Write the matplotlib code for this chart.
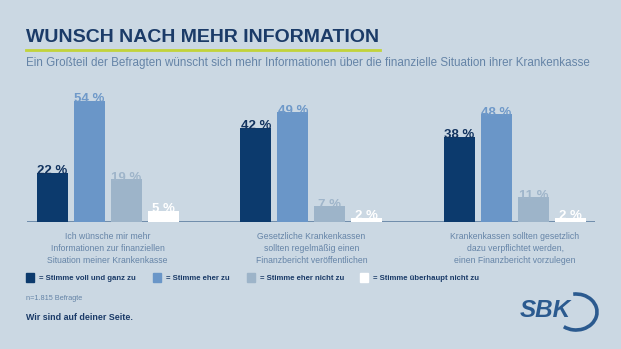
import matplotlib
matplotlib.use("Agg")
import matplotlib.pyplot as plt
from matplotlib.patches import Rectangle, Arc
from matplotlib.lines import Line2D


W, H = 621, 349

categories = [
	"Ich wünsche mir mehr\nInformationen zur finanziellen\nSituation meiner Krankenkasse",
	"Gesetzliche Krankenkassen\nsollten regelmäßig einen\nFinanzbericht veröffentlichen",
	"Krankenkassen sollten gesetzlich\ndazu verpflichtet werden,\neinen Finanzbericht vorzulegen",
]
series_names = [
	"= Stimme voll und ganz zu",
	"= Stimme eher zu",
	"= Stimme eher nicht zu",
	"= Stimme überhaupt nicht zu",
]
voll = [22, 42, 38]
eher = [54, 49, 48]
eher_nicht = [19, 7, 11]
ueberhaupt = [5, 2, 2]

bar_colors = ["#0c3a6d", "#6a96c8", "#9db4c9", "#ffffff"]
label_colors = ["#12335f", "#6f99c9", "#9fb5ca", "#ffffff"]
BG = "#cbd8e3"
DARK = "#1b3b68"
SOFT = "#6584a7"

SANS = ["Liberation Sans", "DejaVu Sans"]


def px(x, y):
	return x / W, 1 - y / H


fig = plt.figure(figsize = (W / 100, H / 100), dpi = 100, facecolor = BG)

# bar area: baseline at y=222px, 2.245 px per percent
left, right, base, top = 27, 595, 222, 85
ax = fig.add_axes([left / W, 1 - base / H, (right - left) / W, (base - top) / H])
ax.set_facecolor(BG)
ax.patch.set_alpha(0)
ax.set_ylim(0, (base - top) / 2.245)
ax.set_xlim(-0.68, 14.66)
for s in ax.spines.values():
	s.set_visible(False)
ax.set_xticks([])
ax.set_yticks([])
ax.axhline(0, color = "#6f8cab", linewidth = 1.4, zorder = 1)

series = [voll, eher, eher_nicht, ueberhaupt]
group_step = 5.5
for j, vals in enumerate(series):
	xs = [i * group_step + j for i in range(len(categories))]
	ax.bar(xs, vals, width = 0.84, color = bar_colors[j], zorder = 2)
	for x, v in zip(xs, vals):
		ax.annotate("%d %%" % v, (x, v), xytext = (0, -1.2), textcoords = "offset points",
			ha = "center", va = "baseline", fontsize = 9.5, fontweight = "bold",
			color = label_colors[j], family = SANS, zorder = 3)

# category labels under each group
for i, cat in enumerate(categories):
	xc = i * group_step + 1.5
	ax.text(xc, -4.6, cat, ha = "center", va = "top", fontsize = 6.2,
		color = SOFT, family = SANS, linespacing = 1.4)

# title, underline, subtitle
fig.text(*px(26, 42), "WUNSCH NACH MEHR INFORMATION", ha = "left", va = "baseline",
	fontsize = 14, fontweight = "bold", color = DARK, family = SANS)
fig.add_artist(Line2D([26 / W, 380 / W], [1 - 50 / H, 1 - 50 / H], color = "#c2d33a", linewidth = 2))
fig.text(*px(26, 63), "Ein Großteil der Befragten wünscht sich mehr Informationen über die finanzielle Situation ihrer Krankenkasse",
	ha = "left", va = "center", fontsize = 8.4, color = SOFT, family = SANS)

# legend
legend_x = [26, 153, 247, 360]
for k, name in enumerate(series_names):
	x0 = legend_x[k]
	fig.add_artist(Rectangle(px(x0, 282), 8 / W, 9 / H, color = bar_colors[k], transform = fig.transFigure))
	fig.text(*px(x0 + 13, 278), name, ha = "left", va = "center", fontsize = 5.6,
		fontweight = "bold", color = DARK, family = SANS)

fig.text(*px(26, 299), "n=1.815 Befragte", ha = "left", va = "center", fontsize = 5.3,
	color = SOFT, family = SANS)
fig.text(*px(26, 318), "Wir sind auf deiner Seite.", ha = "left", va = "center", fontsize = 6.4,
	fontweight = "bold", color = DARK, family = SANS)

# logo
fig.text(*px(520, 310.5), "SBK", ha = "left", va = "center", fontsize = 17.5, fontweight = "bold",
	style = "italic", color = "#2b5a8f", family = SANS)
fig.add_artist(Arc(px(576, 312), 42 / W, 36 / H, theta1 = -115, theta2 = 95,
	color = "#2b5a8f", linewidth = 2.6, transform = fig.transFigure))

fig.savefig("out.png", dpi = 100, facecolor = BG)
